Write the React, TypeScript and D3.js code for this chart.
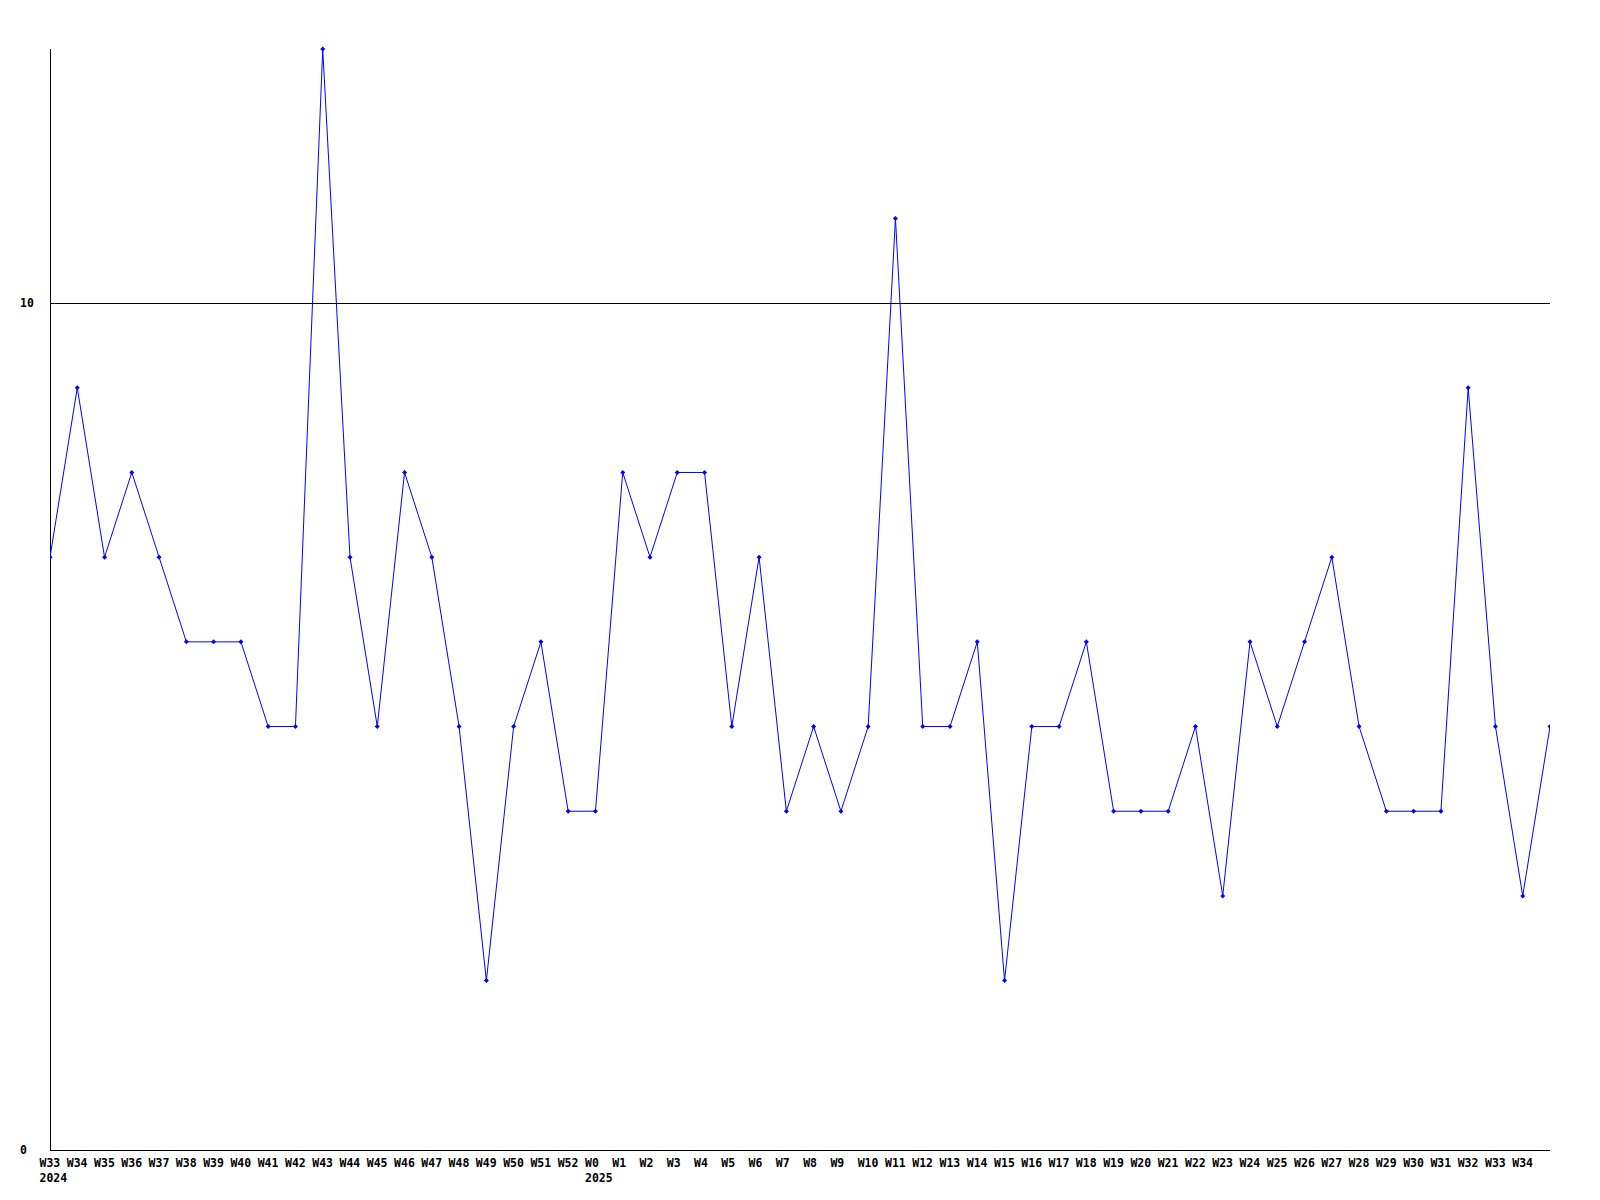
import React from "react";
import * as d3 from "d3";

const weekLabels: string[] = [
  "W33", "W34", "W35", "W36", "W37", "W38", "W39", "W40", "W41", "W42",
  "W43", "W44", "W45", "W46", "W47", "W48", "W49", "W50", "W51", "W52",
  "W0", "W1", "W2", "W3", "W4", "W5", "W6", "W7", "W8", "W9",
  "W10", "W11", "W12", "W13", "W14", "W15", "W16", "W17", "W18", "W19",
  "W20", "W21", "W22", "W23", "W24", "W25", "W26", "W27", "W28", "W29",
  "W30", "W31", "W32", "W33", "W34", "",
];
const yearLabels: { index: number; year: string }[] = [
  { index: 0, year: "2024" },
  { index: 20, year: "2025" },
];
const values: number[] = [
  7, 9, 7, 8, 7, 6, 6, 6, 5, 5,
  13, 7, 5, 8, 7, 5, 2, 5, 6, 4,
  4, 8, 7, 8, 8, 5, 7, 4, 5, 4,
  5, 11, 5, 5, 6, 2, 5, 5, 6, 4,
  4, 4, 5, 3, 6, 5, 6, 7, 5, 4,
  4, 4, 9, 5, 3, 5,
];
const yTicks: number[] = [0, 10];

export default function App() {
  const W = 1600;
  const H = 1200;
  const left = 50, right = 1550, top = 49, bottom = 1150;
  const x = d3.scaleLinear().domain([0, values.length - 1]).range([left, right]);
  const y = d3.scaleLinear().domain([0, 13]).range([bottom, top]);
  const line = d3.line<number>().x((_, i) => x(i)).y((d) => y(d));
  const font = "'DejaVu Sans Mono', monospace";
  const fs = 11.5;
  return (
    <svg width={W} height={H} style={{ position: "absolute", left: 0, top: 0, background: "#fff" }}>
      <rect x={0} y={0} width={W} height={H} fill="#fff" />
      <defs>
        <clipPath id="plot">
          <rect x={left} y={0} width={right - left} height={bottom + 1} />
        </clipPath>
      </defs>
      {yTicks.filter((t) => t !== 0).map((t) => (
        <line key={t} x1={left} x2={right} y1={Math.round(y(t)) + 0.5} y2={Math.round(y(t)) + 0.5} stroke="#000" strokeWidth={1} />
      ))}
      <line x1={left + 0.5} x2={left + 0.5} y1={top} y2={bottom} stroke="#000" />
      <line x1={left} x2={right} y1={bottom + 0.5} y2={bottom + 0.5} stroke="#000" />
      {yTicks.map((t) => (
        <text key={t} x={20} y={y(t)} dominantBaseline="middle" fontFamily={font} fontWeight="bold" fontSize={fs} fill="#000">
          {t}
        </text>
      ))}
      <g clipPath="url(#plot)">
        <path d={line(values) || ""} fill="none" stroke="#0000ff" strokeWidth={1} />
        {values.map((v, i) => (
          <path
            key={i}
            d={`M${x(i)},${y(v) - 2.5}L${x(i) + 2.5},${y(v)}L${x(i)},${y(v) + 2.5}L${x(i) - 2.5},${y(v)}Z`}
            fill="#0000ff"
          />
        ))}
      </g>
      {weekLabels.map((l, i) => (
        <text key={i} x={x(i) - 10.5} y={1167} fontFamily={font} fontWeight="bold" fontSize={fs} fill="#000">
          {l}
        </text>
      ))}
      {yearLabels.map((yl) => (
        <text key={yl.year} x={x(yl.index) - 10.5} y={1182} fontFamily={font} fontWeight="bold" fontSize={fs} fill="#000">
          {yl.year}
        </text>
      ))}
    </svg>
  );
}
